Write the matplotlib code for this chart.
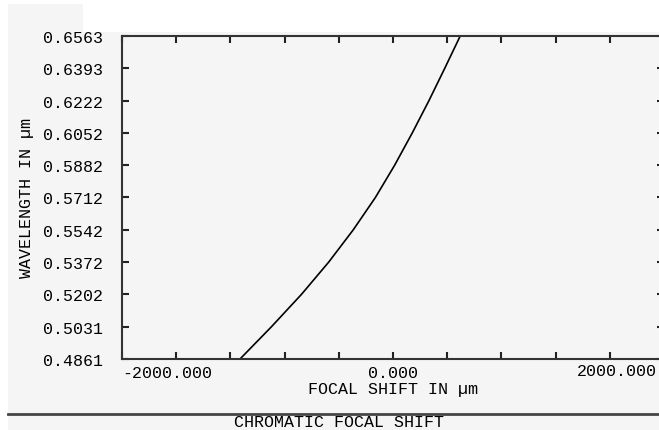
import matplotlib
matplotlib.use('Agg')
import matplotlib.pyplot as plt
from matplotlib.patches import Rectangle
from matplotlib.lines import Line2D

# wavelength ticks (micrometres) and focal shift (micrometres)
wavelength = [0.4861, 0.5031, 0.5202, 0.5372, 0.5542, 0.5712,
              0.5882, 0.6052, 0.6222, 0.6393, 0.6563]
focal_shift = [-1129, -897, -675, -474, -293, -130,
               12, 142, 265, 382, 496]

x_ticks = [-2000, -1600, -1200, -800, -400, 0, 400, 800, 1200, 1600, 2000]
x_labels = ['-2000.000', '', '', '', '', '0.000', '', '', '', '', '2000.000']
y_labels = ['%.4f' % w for w in wavelength]

bg = '#f5f5f5'
font = ['Liberation Mono', 'DejaVu Sans Mono']
fs = 12

fig = plt.figure(figsize=(6.59, 4.31), dpi=100, facecolor='white')

# grey backdrop of the screenshot
fig.patches.append(Rectangle((8 / 659, 0), 1, 1 - 33 / 431, transform=fig.transFigure,
                             facecolor=bg, edgecolor='none', zorder=-10))
fig.patches.append(Rectangle((8 / 659, 1 - 33 / 431), 75 / 659, 28 / 431, transform=fig.transFigure,
                             facecolor=bg, edgecolor='none', zorder=-10))

ax = fig.add_axes([122 / 659, 1 - 360 / 431, 542 / 659, 323 / 431])
ax.set_facecolor(bg)
ax.plot(focal_shift, wavelength, color='black', lw=1.2)

ax.set_xlim(x_ticks[0], x_ticks[-1])
ax.set_ylim(wavelength[0], wavelength[-1])
ax.set_xticks(x_ticks)
# the last label would run off the picture edge, so it is drawn separately below
ax.set_xticklabels(x_labels[:-1] + [''], family=font, fontsize=fs)
ax.get_xticklabels()[0].set_horizontalalignment('left')
ax.set_yticks(wavelength)
ax.set_yticklabels(y_labels, family=font, fontsize=fs)

ax.tick_params(direction='in', length=5, width=1.5, color='#222222',
               top=True, right=True)
ax.tick_params(axis='x', pad=4)
ax.tick_params(axis='y', pad=14)
for s in ax.spines.values():
    s.set_linewidth(1.5)
    s.set_color('#333333')

fig.text(657 / 659, 1 - 364 / 431, x_labels[-1], family=font, fontsize=fs,
         ha='right', va='top')

ax.set_xlabel('FOCAL SHIFT IN µm', family=font, fontsize=fs, labelpad=1)
ax.set_ylabel('WAVELENGTH IN µm', family=font, fontsize=fs, labelpad=6)

# separator and title at the bottom
fig.lines.append(Line2D([8 / 659, 1], [1 - 415 / 431, 1 - 415 / 431], transform=fig.transFigure,
                        color='#444444', lw=2))
fig.text(339.5 / 659, 1 - 423 / 431, 'CHROMATIC FOCAL SHIFT', family=font, fontsize=fs,
         ha='center', va='center')

fig.savefig('out.png', dpi=100, facecolor='white')
